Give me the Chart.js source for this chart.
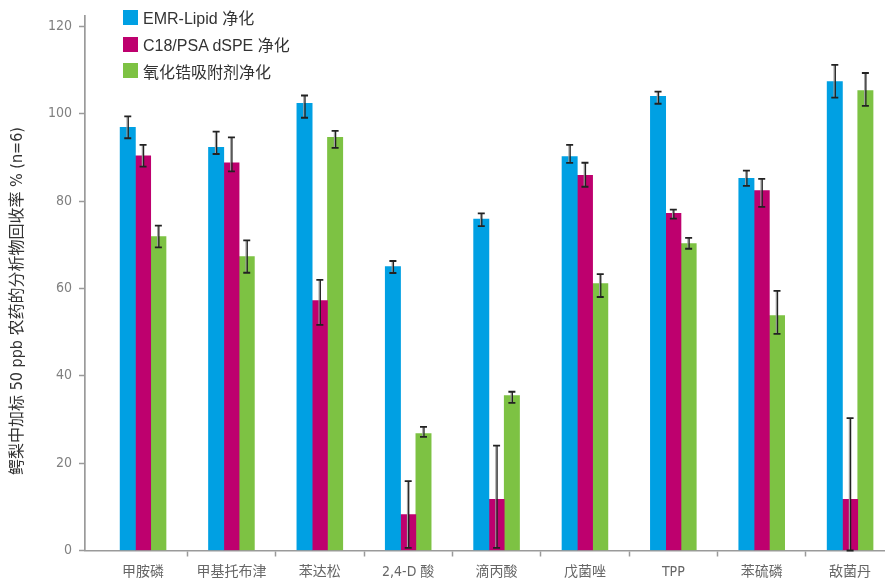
<!DOCTYPE html>
<html lang="zh-CN">
<head>
<meta charset="utf-8">
<title>鳄梨中加标 50 ppb 农药的分析物回收率</title>
<script src="https://cdn.jsdelivr.net/npm/chart.js@4.4.1/dist/chart.umd.min.js"></script>
<style>
  html, body { margin: 0; padding: 0; background: #fff; overflow: hidden; }
  #wrap { position: relative; width: 885px; height: 586px; }
  #legend { position: absolute; left: 123px; top: 4px; margin: 0; padding: 0; list-style: none;
            font: 16px 'Liberation Sans', 'Noto Sans CJK SC', sans-serif; color: #333; }
  #legend li { display: flex; align-items: center; height: 26.7px; }
  #legend span.box { display: inline-block; width: 15px; height: 15px; margin-right: 5px; }
</style>
</head>
<body>
<div id="wrap">
  <canvas id="chart"></canvas>
  <ul id="legend"></ul>
</div>
<script>
// Pesticides on the x axis
const CATEGORIES = ['甲胺磷', '甲基托布津', '苯达松', '2,4-D 酸', '滴丙酸', '戊菌唑', 'TPP', '苯硫磷', '敌菌丹'];
const SERIES_NAMES = ['EMR-Lipid 净化', 'C18/PSA dSPE 净化', '氧化锆吸附剂净化'];
const Y_TICKS = [0, 20, 40, 60, 80, 100, 120];

// Mean recovery (%) and the upper / lower extent of each error bar
const EMR_LIPID      = [96.9, 92.3, 102.4, 65.0, 75.9, 90.2, 104.0, 85.2, 107.4];
const EMR_ERR_UP     = [2.5, 3.6, 1.8, 1.3, 1.3, 2.7, 1.1, 1.8, 3.8];
const EMR_ERR_DOWN   = [2.5, 1.5, 3.3, 1.45, 1.6, 1.45, 1.7, 1.7, 3.7];

const C18_PSA        = [90.4, 88.8, 57.25, 8.2, 11.7, 85.9, 77.2, 82.4, 11.7];
const C18_ERR_UP     = [2.5, 5.8, 4.7, 7.7, 12.3, 2.9, 0.85, 2.7, 18.6];
const C18_ERR_DOWN   = [2.5, 2.0, 5.6, 7.6, 11.1, 2.6, 1.2, 3.7, 11.7];

const ZIRCONIA       = [71.9, 67.3, 94.6, 26.8, 35.5, 61.1, 70.3, 53.8, 105.3];
const ZR_ERR_UP      = [2.5, 3.7, 1.5, 1.5, 0.85, 2.2, 1.3, 5.65, 4.05];
const ZR_ERR_DOWN    = [2.5, 3.7, 2.4, 0.8, 1.7, 3.05, 1.2, 4.2, 3.5];

const COLORS = ['#00A0E3', '#BE006E', '#7DC243'];

const FONT_FAMILY = "'Liberation Sans Narrow', 'DejaVu Sans Condensed', 'Noto Sans CJK SC', sans-serif";
const AXIS_GRAY = '#9a9a9a';

function points(values) {
  return values.map((v, i) => ({ x: i, y: v }));
}

const datasets = [
  { label: SERIES_NAMES[0], data: points(EMR_LIPID), errUp: EMR_ERR_UP, errDown: EMR_ERR_DOWN, backgroundColor: COLORS[0] },
  { label: SERIES_NAMES[1], data: points(C18_PSA),   errUp: C18_ERR_UP, errDown: C18_ERR_DOWN, backgroundColor: COLORS[1] },
  { label: SERIES_NAMES[2], data: points(ZIRCONIA),  errUp: ZR_ERR_UP,  errDown: ZR_ERR_DOWN,  backgroundColor: COLORS[2] }
];

// Error bars drawn on top of each bar, in value space of the y scale
const errorBars = {
  id: 'errorBars',
  afterDatasetsDraw(chart) {
    const { ctx } = chart;
    const yScale = chart.scales.y;
    chart.data.datasets.forEach((ds, di) => {
      const meta = chart.getDatasetMeta(di);
      meta.data.forEach((bar, i) => {
        const v = ds.data[i].y;
        const yTop = yScale.getPixelForValue(v + ds.errUp[i]);
        const yBot = yScale.getPixelForValue(Math.max(v - ds.errDown[i], yScale.min));
        const x = bar.x;
        ctx.save();
        ctx.lineCap = 'butt';
        ctx.strokeStyle = '#a0a0a0';
        ctx.lineWidth = 1.2;
        ctx.beginPath(); ctx.moveTo(x - 0.7, yTop); ctx.lineTo(x - 0.7, yBot); ctx.stroke();
        ctx.strokeStyle = '#222';
        ctx.lineWidth = 1.3;
        ctx.beginPath(); ctx.moveTo(x + 0.5, yTop); ctx.lineTo(x + 0.5, yBot); ctx.stroke();
        ctx.lineWidth = 1.8;
        ctx.beginPath();
        ctx.moveTo(x - 3.5, yTop); ctx.lineTo(x + 3.5, yTop);
        ctx.moveTo(x - 3.5, yBot); ctx.lineTo(x + 3.5, yBot);
        ctx.stroke();
        ctx.restore();
      });
    });
  }
};

// Legend list built from the chart's datasets
const htmlLegend = {
  id: 'htmlLegend',
  afterUpdate(chart) {
    const ul = document.getElementById('legend');
    ul.innerHTML = '';
    chart.data.datasets.forEach((ds) => {
      const li = document.createElement('li');
      const box = document.createElement('span');
      box.className = 'box';
      box.style.background = ds.backgroundColor;
      li.appendChild(box);
      li.appendChild(document.createTextNode(ds.label));
      ul.appendChild(li);
    });
  }
};

new Chart(document.getElementById('chart'), {
  type: 'bar',
  data: { datasets },
  plugins: [errorBars, htmlLegend],
  options: {
    responsive: true,
    maintainAspectRatio: false,
    animation: false,
    layout: { padding: { top: 16, left: 0, right: 0, bottom: 0 } },
    datasets: { bar: { barThickness: 15.3, grouped: true } },
    plugins: {
      legend: { display: false },
      tooltip: { enabled: false },
      title: {
        display: true,
        position: 'left',
        text: '鳄梨中加标 50 ppb 农药的分析物回收率 % (n=6)',
        color: '#333',
        font: { family: FONT_FAMILY, size: 16, weight: 'normal', lineHeight: 1.2 },
        padding: { top: 8, bottom: 0 }
      }
    },
    scales: {
      x: {
        type: 'linear',
        offset: false,
        min: -0.657,
        max: 8.395,
        afterBuildTicks(scale) {
          scale.ticks = CATEGORIES.map((_, i) => ({ value: i }));
        },
        afterFit(scale) { scale.height = 35.5; },
        ticks: {
          autoSkip: false,
          maxRotation: 0,
          padding: 7,
          color: '#666',
          font: { family: FONT_FAMILY, size: 14 },
          callback: (value) => CATEGORIES[value]
        },
        grid: {
          offset: true,
          drawOnChartArea: false,
          drawTicks: true,
          tickLength: 6,
          tickWidth: 1.5,
          tickColor: (c) => (c.index === 0 ? 'rgba(0,0,0,0)' : AXIS_GRAY)
        },
        border: { display: true, color: AXIS_GRAY, width: 1.5 }
      },
      y: {
        min: 0,
        max: 122.4,
        afterBuildTicks(scale) {
          scale.ticks = Y_TICKS.map((v) => ({ value: v }));
        },
        afterFit(scale) { scale.width = 85 - 27.2; },
        ticks: {
          padding: 7,
          color: '#808080',
          font: { family: FONT_FAMILY, size: 14 }
        },
        grid: {
          drawOnChartArea: false,
          drawTicks: true,
          tickLength: 6,
          tickWidth: 1.5,
          tickColor: AXIS_GRAY
        },
        border: { display: true, color: AXIS_GRAY, width: 1.7 }
      }
    }
  }
});
</script>
</body>
</html>
